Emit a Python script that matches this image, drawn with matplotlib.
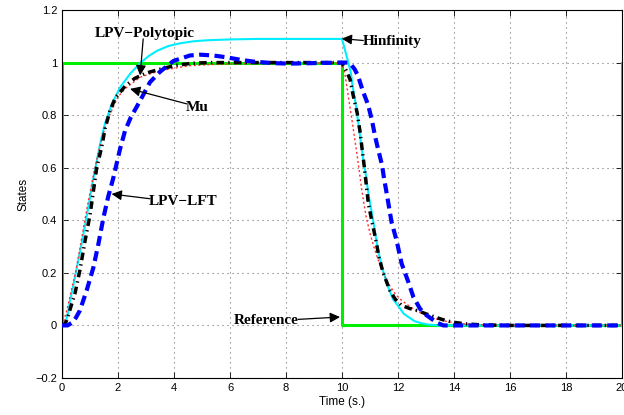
import numpy as np
import matplotlib.pyplot as plt

plt.rcParams['font.family'] = ['Liberation Sans', 'DejaVu Sans']

# reference square wave
t_ref = [0, 0, 10, 10, 20, 20]
y_ref = [0, 1, 1, 0, 0, 1]

# Hinfinity
t_hinf = [0, 0.1, 0.2, 0.29, 0.4, 0.55, 0.7, 0.94, 1.12, 1.36, 1.54, 1.77, 2.07, 2.43,
          2.79, 3.1, 3.4, 3.8, 4.2, 4.7, 5.2, 6.0, 7, 8, 9, 10,
          10.1, 10.2, 10.31, 10.38, 10.5, 10.62, 10.74, 10.86, 10.96, 11.08, 11.2, 11.3,
          11.42, 11.55, 11.65, 11.82, 12.0, 12.2, 12.4, 12.6, 12.85, 13.1, 13.4, 20]
y_hinf = [0, 0.0, 0.04, 0.095, 0.15, 0.23, 0.31, 0.45, 0.56, 0.69, 0.77, 0.84, 0.905, 0.957,
          0.998, 1.025, 1.045, 1.063, 1.073, 1.081, 1.085, 1.088, 1.09, 1.09, 1.09, 1.09,
          1.05, 1.01, 0.965, 0.91, 0.835, 0.74, 0.645, 0.565, 0.49, 0.42, 0.34, 0.28,
          0.225, 0.18, 0.146, 0.1, 0.075, 0.045, 0.03, 0.016, 0.008, 0.003, 0.0, 0.0]

# LPV-Polytopic
t_poly = [0, 0.05, 0.2, 0.35, 0.5, 0.7, 0.9, 1.1, 1.3, 1.5, 1.7, 2.0, 2.3, 2.55, 2.79,
          3.14, 3.5, 3.86, 4.57, 5.2, 6, 7.5, 10,
          10.1, 10.2, 10.4, 10.55, 10.7, 10.85, 11.0, 11.15, 11.3, 11.45, 11.65, 11.9,
          12.13, 12.5, 12.85, 13.2, 13.56, 14.1, 14.8, 15.5, 20]
y_poly = [0, 0.01, 0.07, 0.14, 0.21, 0.33, 0.45, 0.56, 0.66, 0.74, 0.8, 0.87, 0.905, 0.925, 0.944,
          0.957, 0.968, 0.976, 0.988, 0.992, 0.995, 0.997, 0.998,
          0.96, 0.89, 0.75, 0.64, 0.52, 0.42, 0.35, 0.295, 0.247, 0.205, 0.16, 0.12,
          0.095, 0.066, 0.046, 0.03, 0.019, 0.008, 0.003, 0.0, 0.0]

# Mu
t_mu = [0, 0.1, 0.17, 0.3, 0.46, 0.64, 0.82, 1.0, 1.12, 1.24, 1.42, 1.54, 1.71, 1.9, 2.25,
        2.6, 3.0, 3.4, 4.0, 4.6, 5.2, 10,
        10.04, 10.15, 10.29, 10.4, 10.54, 10.64, 10.8, 10.94, 11.06, 11.2, 11.32, 11.47,
        11.71, 11.9, 12.13, 12.4, 12.73, 13.0, 13.32, 13.6, 13.92, 14.4, 15.0, 16, 20]
y_mu = [0, 0.005, 0.02, 0.065, 0.12, 0.21, 0.32, 0.42, 0.51, 0.6, 0.68, 0.75, 0.815, 0.865, 0.91,
        0.94, 0.96, 0.972, 0.988, 0.997, 1.0, 1.0,
        0.99, 0.97, 0.935, 0.875, 0.81, 0.74, 0.6, 0.465, 0.4, 0.33, 0.26, 0.2,
        0.133, 0.1, 0.076, 0.065, 0.055, 0.044, 0.032, 0.022, 0.013, 0.006, 0.002, 0.0, 0.0]

# LPV-LFT
t_lft = [0, 0.2, 0.35, 0.5, 0.64, 0.88, 1.12, 1.3, 1.48, 1.65, 1.83, 2.07, 2.25, 2.45, 2.79,
         3.14, 3.5, 3.98, 4.57, 4.93, 5.4, 5.88, 6.4, 6.82, 7.5, 8.14, 9, 10,
         10.2, 10.3, 10.45, 10.57, 10.75, 10.93, 11.07, 11.18, 11.29, 11.43, 11.5, 11.6,
         11.77, 11.95, 12.13, 12.37, 12.55, 12.79, 13.0, 13.2, 13.4, 13.62, 20]
y_lft = [0, 0.0, 0.01, 0.03, 0.057, 0.133, 0.22, 0.31, 0.41, 0.49, 0.56, 0.67, 0.74, 0.79, 0.855,
         0.925, 0.965, 1.006, 1.027, 1.03, 1.027, 1.02, 1.01, 1.004, 0.998, 0.996, 0.998, 1.0,
         1.0, 0.995, 0.975, 0.95, 0.89, 0.84, 0.78, 0.72, 0.67, 0.61, 0.56, 0.50,
         0.393, 0.323, 0.235, 0.165, 0.108, 0.063, 0.04, 0.025, 0.01, 0.0, 0.0]

# annotations: label, text position, arrow start, arrow tip
notes = [
    ('LPV\u2212Polytopic', (2.96, 1.111), (2.9, 1.09), (2.79, 0.951)),
    ('Mu', (4.82, 0.829), (4.45, 0.843), (2.43, 0.90)),
    ('LPV\u2212LFT', (4.34, 0.472), (3.14, 0.482), (1.77, 0.50)),
    ('Hinfinity', (11.8, 1.081), (10.76, 1.084), (9.99, 1.091)),
    ('Reference', (7.29, 0.019), (8.43, 0.023), (9.93, 0.032)),
]

fig = plt.figure(figsize=(6.24, 4.15), dpi=100)
ax = fig.add_axes([62/624, 1-378/415, 560/624, 368/415])

ax.plot(t_ref, y_ref, color='#00ee00', lw=2.2, zorder=2)
ax.plot(t_hinf, y_hinf, color='#00eeff', lw=1.5, zorder=3)
ax.plot(t_poly, y_poly, color='#ff3030', lw=1.0, ls=(0, (1.5, 1.8)), zorder=4)
ax.plot(t_mu, y_mu, color='k', lw=2.5, dashes=(2.2, 1.2, 0.4, 1.2), zorder=5)
ax.plot(t_lft, y_lft, color='#0000ff', lw=3, dashes=(2.4, 1.3), zorder=6)

for label, tpos, start, tip in notes:
    ax.annotate('', xy=tip, xytext=start,
                arrowprops=dict(arrowstyle='-|>', color='k', lw=0.9,
                                mutation_scale=15, shrinkA=0, shrinkB=0),
                zorder=8)
    ax.text(tpos[0], tpos[1], label, ha='center', va='center', fontsize=11,
            fontweight='bold', family='Liberation Serif', zorder=9)

ax.set_xlim(0, 20)
ax.set_ylim(-0.2, 1.2)
ax.set_xticks(np.arange(0, 21, 2))
ax.set_yticks(np.arange(-0.2, 1.21, 0.2))
ax.set_yticklabels(['\u22120.2', '0', '0.2', '0.4', '0.6', '0.8', '1', '1.2'])
ax.tick_params(direction='in', top=True, right=True, labelsize=8, length=4, width=0.6)
ax.grid(True, ls=(0, (1, 3.5)), color='0.45', lw=0.8)
for sp in ax.spines.values():
    sp.set_linewidth(0.8)

ax.set_xlabel('Time (s.)', fontsize=8.5, labelpad=2)
ax.set_ylabel('States', fontsize=8.5, labelpad=4)

fig.savefig('out.png', dpi=100)
